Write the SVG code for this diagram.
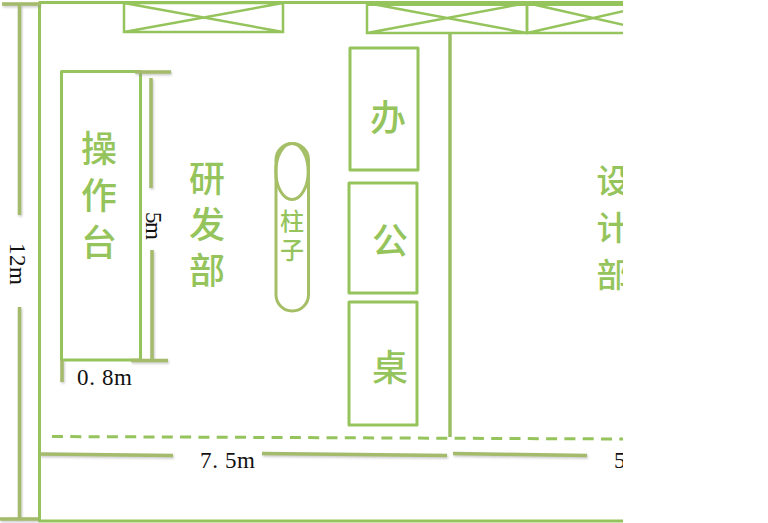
<svg xmlns="http://www.w3.org/2000/svg" width="768" height="523" viewBox="0 0 768 523">
<style>
.w{fill:none;stroke:#95c45c;stroke-width:3;stroke-linejoin:round}
.x{fill:none;stroke:#95c45c;stroke-width:2.5}
.d{fill:none;stroke:#a5bb6c;stroke-width:3.5;filter:url(#s)}
.c{font-family:"Noto Sans CJK SC",sans-serif;font-weight:500;fill:#95c45c;text-anchor:middle;dominant-baseline:central}
.v{font-family:"Noto Sans CJK SC",sans-serif;font-weight:500;fill:#95c45c;writing-mode:vertical-rl}
.m{font-family:"Liberation Serif","Noto Sans CJK SC",serif;font-size:23px;fill:#111}
</style>
<defs>
<filter id="s" x="-20%" y="-20%" width="140%" height="140%" filterUnits="userSpaceOnUse" primitiveUnits="userSpaceOnUse"><feDropShadow dx="1" dy="1.5" stdDeviation="1" flood-color="#888" flood-opacity=".45"/></filter>
<clipPath id="page"><rect x="0" y="0" width="623" height="523"/></clipPath>
</defs>
<rect width="768" height="523" fill="#fff"/>
<g clip-path="url(#page)">
<g id="walls">
<path class="w" d="M623 521H39.500V2.500H623"/>
<path class="w" d="M367 3.500H623" style="stroke-width:5"/>
<path class="w" d="M450 33V437" style="stroke:#9abf62;stroke-width:3.500"/>
<path class="w" d="M52 436.500L623 439" style="stroke-width:3;stroke-dasharray:11 7.300"/>
</g>
<g id="window-1"><path class="x" d="M124 3H283V32H124ZM124 32L283 3M124 3L283 32"/></g>
<g id="window-2"><path class="x" d="M367 3H527V33H367ZM367 33L527 3M367 3L527 33"/></g>
<g id="window-3"><path class="x" d="M527 3H659V33H527ZM527 33L659 3M527 3L659 33"/></g>
<g id="console">
<rect class="w" x="61.500" y="71.500" width="79" height="288.500"/>
<text class="v" font-size="36" x="99" y="130" letter-spacing="11">操作台</text>
</g>
<g id="rd-dept">
<text class="v" font-size="36" x="207" y="160" letter-spacing="10">研发部</text>
</g>
<g id="pillar">
<rect x="276" y="143.500" width="32.500" height="167.500" rx="16.200" fill="none" stroke="#a5bf66" stroke-width="3"/>
<ellipse cx="292" cy="171.500" rx="16.200" ry="28" fill="none" stroke="#a5bf66" stroke-width="3"/>
<text class="v" font-size="24" x="292" y="209" letter-spacing="5">柱子</text>
</g>
<g id="desk-1"><rect class="w" x="350" y="48" width="68" height="122"/><text class="c" font-size="36" x="388" y="115">办</text></g>
<g id="desk-2"><rect class="w" x="349" y="183" width="68" height="110"/><text class="c" font-size="36" x="390" y="238">公</text></g>
<g id="desk-3"><rect class="w" x="349" y="302" width="68" height="123"/><text class="c" font-size="36" x="390" y="365">桌</text></g>
<g id="design-dept">
<text class="v" font-size="33" x="613" y="164" letter-spacing="14">设计部</text>
</g>
<g id="dimensions">
<path class="d" d="M19.500 5V215M19.500 307V520M2 4H40M0 519H38"/>
<path class="d" d="M135 72H171M131 360.500H168M151 78V188M152 250V360M62 360V382"/>
<path class="d" d="M40 454L173 455.500M262 453.500L447 455.500M453 453.500L587 455.500"/>
</g>
<g id="dim-labels">
<text class="m" transform="translate(10 243) rotate(90)" textLength="42" lengthAdjust="spacing">12m</text>
<text class="m" transform="translate(146 212) rotate(90)" textLength="28" lengthAdjust="spacing">5m</text>
<text class="m" x="77" y="385" textLength="55" lengthAdjust="spacing">0. 8m</text>
<text class="m" x="200" y="468" textLength="55" lengthAdjust="spacing">7. 5m</text>
<text class="m" x="614" y="468">5</text>
</g>
</g>
</svg>
